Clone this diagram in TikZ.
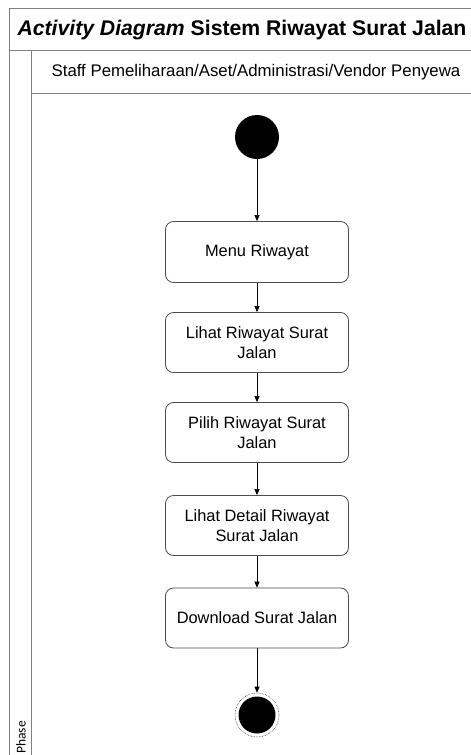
\documentclass[tikz,border=0pt]{standalone}
\usepackage{fontspec}
\setmainfont{Liberation Sans}
\newfontfamily\calibri{Carlito}
\usetikzlibrary{arrows.meta}
\begin{document}
\begin{tikzpicture}[x=1pt,y=-1pt,
  frameline/.style={draw=black!50,line width=0.9pt},
  actbox/.style={draw=black!70,line width=0.8pt,rounded corners=8pt,fill=white,
    minimum width=183pt,minimum height=60pt,align=center,
    font=\fontsize{16.4}{20}\selectfont,inner sep=0pt},
  flow/.style={draw=black,line width=0.6pt,-{Triangle[length=6pt,width=5pt]}},
  startdot/.style={circle,fill=black,minimum size=44pt,inner sep=0pt},
]
\useasboundingbox (0,0) rectangle (471,755);
\fill[white] (0,0) rectangle (471,755);

% swimlane frame
\draw[frameline] (480,8) -- (9,8) -- (9,760);
\draw[frameline] (9,50) -- (480,50);
\draw[frameline] (31,50) -- (31,760);
\draw[frameline] (31,93) -- (480,93);

\node[font=\fontsize{21.2}{25}\selectfont\bfseries,anchor=center] (title) at (242,30)
  {\textit{Activity Diagram} Sistem Riwayat Surat Jalan};
\node[font=\fontsize{16.8}{20}\selectfont,anchor=center] (lane) at (256,72)
  {Staff Pemeliharaan/Aset/Administrasi/Vendor Penyewa};
\node[font=\calibri\fontsize{13.5}{16}\selectfont,rotate=90,anchor=east,inner sep=1pt] (phase) at (21,720) {Phase};

% activities
\node[startdot] (start) at (257,137) {};
\node[actbox,minimum height=61pt] (a1) at (257,252) {Menu Riwayat};
\node[actbox] (a2) at (257,342.5) {Lihat Riwayat Surat\\Jalan};
\node[actbox] (a3) at (257,432.5) {Pilih Riwayat Surat\\Jalan};
\node[actbox] (a4) at (257,525.5) {Lihat Detail Riwayat\\Surat Jalan};
\node[actbox] (a5) at (257,618) {Download Surat Jalan};
\node[circle,draw=black!80,densely dotted,line width=0.6pt,minimum size=44pt,inner sep=0pt] (finish) at (257,715) {};
\node[circle,fill=black,minimum size=37pt,inner sep=0pt] (finishdot) at (finish) {};

\draw[flow] (start) -- (a1);
\draw[flow] (a1) -- (a2);
\draw[flow] (a2) -- (a3);
\draw[flow] (a3) -- (a4);
\draw[flow] (a4) -- (a5);
\draw[flow] (a5) -- (finish);
\end{tikzpicture}
\end{document}
